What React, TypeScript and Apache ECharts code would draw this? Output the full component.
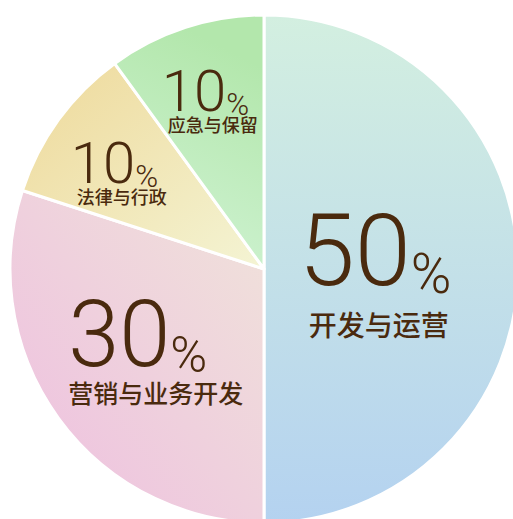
import React, { useEffect, useRef } from "react";
import * as echarts from "echarts";

const categories = ["开发与运营", "营销与业务开发", "法律与行政", "应急与保留"];
const values = [50, 30, 10, 10];
const topColors = ["#d3efe0", "#f0e3da", "#eed99a", "#b3e7ac"];
const bottomColors = ["#b4d2f0", "#eebee0", "#f4f4d4", "#d3f4d8"];
const gradientDirs: number[][] = [
  [0, 0, 0, 1],
  [1, 0, 0, 1],
  [0, 0, 1, 1],
  [0.3, 0, 0, 1],
];
const sizeKeys = ["big", "mid", "small", "small"];
const labelShift: number[][] = [
  [-19, 13],
  [-3, 7],
  [-40, -22],
  [-14, -46],
];

const TEXT = "#4a2a0e";
const NUM_FONT = "Roboto";
const CJK_FONT = "'Noto Sans CJK SC'";

export default function App() {
  const ref = useRef<HTMLDivElement>(null);
  useEffect(() => {
    if (!ref.current) return;
    const chart = echarts.init(ref.current, undefined, { renderer: "svg" });
    const data = categories.map((name, i) => ({
      name,
      value: values[i],
      itemStyle: {
        color: new echarts.graphic.LinearGradient(
          gradientDirs[i][0],
          gradientDirs[i][1],
          gradientDirs[i][2],
          gradientDirs[i][3],
          [
            { offset: 0, color: topColors[i] },
            { offset: 1, color: bottomColors[i] },
          ]
        ),
      },
      label: {
        formatter: `{${sizeKeys[i]}N|${values[i]}}{${sizeKeys[i]}P|%}\n{${sizeKeys[i]}T|${name}}`,
      },
    }));
    const num = (size: number, lh: number) => ({
      fontFamily: NUM_FONT,
      fontWeight: 300,
      fontSize: size,
      lineHeight: lh,
      color: TEXT,
      align: "left",
      verticalAlign: "bottom",
    });
    const txt = (size: number, lh: number, padLeft: number) => ({
      fontFamily: CJK_FONT,
      fontWeight: 500,
      fontSize: size,
      lineHeight: lh,
      color: TEXT,
      align: "left",
      padding: [0, 0, 0, padLeft],
    });
    chart.setOption({
      animation: false,
      backgroundColor: "#ffffff",
      series: [
        {
          type: "pie",
          center: [264, 269],
          radius: [0, 254],
          startAngle: 90,
          clockwise: true,
          avoidLabelOverlap: false,
          itemStyle: { borderColor: "#ffffff", borderWidth: 3 },
          label: {
            show: true,
            position: "inside",
            rich: {
              bigN: num(101, 84),
              bigP: num(55, 52),
              bigT: txt(28, 46, 10),
              midN: num(92, 80),
              midP: num(50, 50),
              midT: txt(25, 24, 0),
              smallN: num(58, 50),
              smallP: num(31, 32),
              smallT: txt(18, 8, 6),
            },
          },
          labelLine: { show: false },
          labelLayout: (params: any) => ({
            dx: labelShift[params.dataIndex][0],
            dy: labelShift[params.dataIndex][1],
          }),
          emphasis: { disabled: true },
          data,
        },
      ],
    });
    return () => chart.dispose();
  }, []);
  return (
    <div
      ref={ref}
      style={{ position: "fixed", left: 0, top: 0, width: 513, height: 519 }}
    />
  );
}
